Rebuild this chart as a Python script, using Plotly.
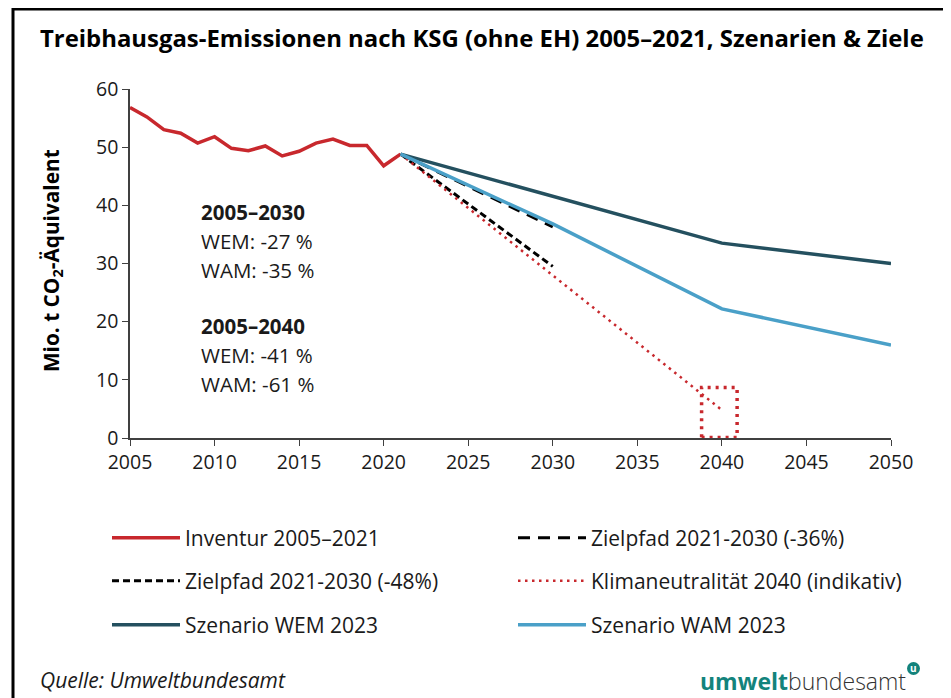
import plotly.graph_objects as go

# ---------------- data ----------------
inv_years = list(range(2005, 2022))
inv_values = [56.8, 55.2, 53.0, 52.4, 50.7, 51.8, 49.8, 49.4, 50.2, 48.5,
              49.3, 50.7, 51.4, 50.3, 50.3, 46.8, 48.8]

ziel36_years = [2021, 2030]
ziel36_values = [48.8, 36.3]

ziel48_years = [2021, 2030]
ziel48_values = [48.8, 29.5]

klima_years = [2021, 2040]
klima_values = [48.8, 4.8]

wem_years = [2021, 2030, 2040, 2050]
wem_values = [48.8, 41.5, 33.5, 30.0]

wam_years = [2021, 2030, 2040, 2050]
wam_values = [48.8, 36.8, 22.2, 16.0]

x_ticks = list(range(2005, 2051, 5))
y_ticks = list(range(0, 61, 10))

note_lines = [("<b>2005–2030</b>", "WEM: -27 %", "WAM: -35 %"),
              ("<b>2005–2040</b>", "WEM: -41 %", "WAM: -61 %")]

# ---------------- styling ----------------
RED = "#c8282d"
WEM_C = "#24505f"
WAM_C = "#4aa0c8"
TEAL = "#13837c"
FONT = "Open Sans"
TXT = "#1a1a1a"

OFF = 8                      # page body margin
W, H = 951 - OFF, 698 - OFF
L, R, T = 130 - OFF, 60, 89 - OFF
PW = 761
PH = 349
B = H - T - PH


def px(x):
    return (x - OFF - L) / PW


def py(y):
    return (T + PH - (y - OFF)) / PH


fig = go.Figure()

fig.add_trace(go.Scatter(x=inv_years, y=inv_values, mode="lines",
                         name="Inventur 2005–2021",
                         line=dict(color=RED, width=3.5), legend="legend"))
fig.add_trace(go.Scatter(x=ziel36_years, y=ziel36_values, mode="lines",
                         name="Zielpfad 2021-2030 (-36%)",
                         line=dict(color="black", width=3, dash="12px,8px"),
                         legend="legend"))
fig.add_trace(go.Scatter(x=ziel48_years, y=ziel48_values, mode="lines",
                         name="Zielpfad 2021-2030 (-48%)",
                         line=dict(color="black", width=3, dash="7px,4px"),
                         legend="legend2"))
fig.add_trace(go.Scatter(x=klima_years, y=klima_values, mode="lines",
                         name="Klimaneutralität 2040 (indikativ)",
                         line=dict(color=RED, width=2.5, dash="2.5px,4.5px"),
                         legend="legend2"))
fig.add_trace(go.Scatter(x=wem_years, y=wem_values, mode="lines",
                         name="Szenario WEM 2023",
                         line=dict(color=WEM_C, width=3.5), legend="legend3"))
fig.add_trace(go.Scatter(x=wam_years, y=wam_values, mode="lines",
                         name="Szenario WAM 2023",
                         line=dict(color=WAM_C, width=3.5), legend="legend3"))

# dotted box around 2040 target
fig.add_shape(type="rect", xref="x", yref="y", x0=2038.8, x1=2040.9, y0=0.1, y1=8.7,
              line=dict(color=RED, width=3.5, dash="3px,5px"))

# frame
fig.add_shape(type="line", xref="paper", yref="paper", x0=px(13), x1=px(13),
              y0=py(8), y1=py(700), line=dict(color="black", width=3))
fig.add_shape(type="line", xref="paper", yref="paper", x0=px(12), x1=px(960),
              y0=py(9), y1=py(9), line=dict(color="black", width=3))

leg_common = dict(orientation="h", entrywidth=323, itemwidth=68,
                  font=dict(family=FONT, size=21, color=TXT),
                  xanchor="left", yanchor="middle", bgcolor="rgba(0,0,0,0)",
                  traceorder="normal")
fig.update_layout(
    legend=dict(x=px(107), y=py(538), **leg_common),
    legend2=dict(x=px(107), y=py(581), **leg_common),
    legend3=dict(x=px(107), y=py(625), **leg_common),
)

ann = []
ann.append(dict(text="<b>Treibhausgas-Emissionen nach KSG (ohne EH) 2005–2021, Szenarien &amp; Ziele</b>",
                x=px(482), y=py(37), xref="paper", yref="paper", showarrow=False,
                xanchor="center", yanchor="middle",
                font=dict(family=FONT, size=23.9, color="black")))
ann.append(dict(text="<b>Mio. t CO<sub>2</sub>-Äquivalent</b>", textangle=-90,
                x=px(52), y=py(261), xref="paper", yref="paper", showarrow=False,
                xanchor="center", yanchor="middle",
                font=dict(family=FONT, size=20.8, color="black")))
ys = [[212, 241, 270], [326, 355, 384]]
for block, yrow in zip(note_lines, ys):
    for txt, yy in zip(block, yrow):
        ann.append(dict(text=txt, x=px(199), y=py(yy), xref="paper", yref="paper",
                        showarrow=False, xanchor="left", yanchor="middle",
                        font=dict(family=FONT, size=20.5, color=TXT)))
ann.append(dict(text="<i>Quelle: Umweltbundesamt</i>", x=px(38), y=py(680),
                xref="paper", yref="paper", showarrow=False, xanchor="left",
                yanchor="middle", font=dict(family=FONT, size=21, color=TXT)))
ann.append(dict(text=f"<span style='color:{TEAL};font-weight:bold'>umwelt</span>"
                     f"<span style='color:#333333;font-weight:300'>bundesamt</span>",
                x=px(698), y=py(681), xref="paper", yref="paper", showarrow=False,
                xanchor="left", yanchor="middle", font=dict(family=FONT, size=23)))
fig.add_shape(type="circle", xref="paper", yref="paper",
              x0=px(907), x1=px(920), y0=py(662), y1=py(675),
              fillcolor=TEAL, line=dict(color=TEAL, width=0))
ann.append(dict(text="<b>u</b>", x=px(913.5), y=py(668), xref="paper", yref="paper",
                showarrow=False, xanchor="center", yanchor="middle",
                font=dict(family=FONT, size=10, color="white")))

fig.update_layout(
    width=W, height=H,
    margin=dict(l=L, r=R, t=T, b=B),
    paper_bgcolor="white", plot_bgcolor="white",
    font=dict(family=FONT, size=19.5, color=TXT),
    showlegend=True,
    annotations=ann,
    xaxis=dict(range=[2005, 2050], tickvals=x_ticks, showgrid=False, zeroline=False,
               showline=True, linecolor="#404040", linewidth=1.5,
               ticks="outside", ticklen=6, tickcolor="#404040",
               tickfont=dict(family=FONT, size=19.5, color=TXT)),
    yaxis=dict(range=[0, 60], tickvals=y_ticks, showgrid=False, zeroline=False,
               showline=True, linecolor="#404040", linewidth=1.5,
               ticks="outside", ticklen=6, tickcolor="#404040",
               tickfont=dict(family=FONT, size=19.5, color=TXT)),
)

fig.write_html("out.html")
